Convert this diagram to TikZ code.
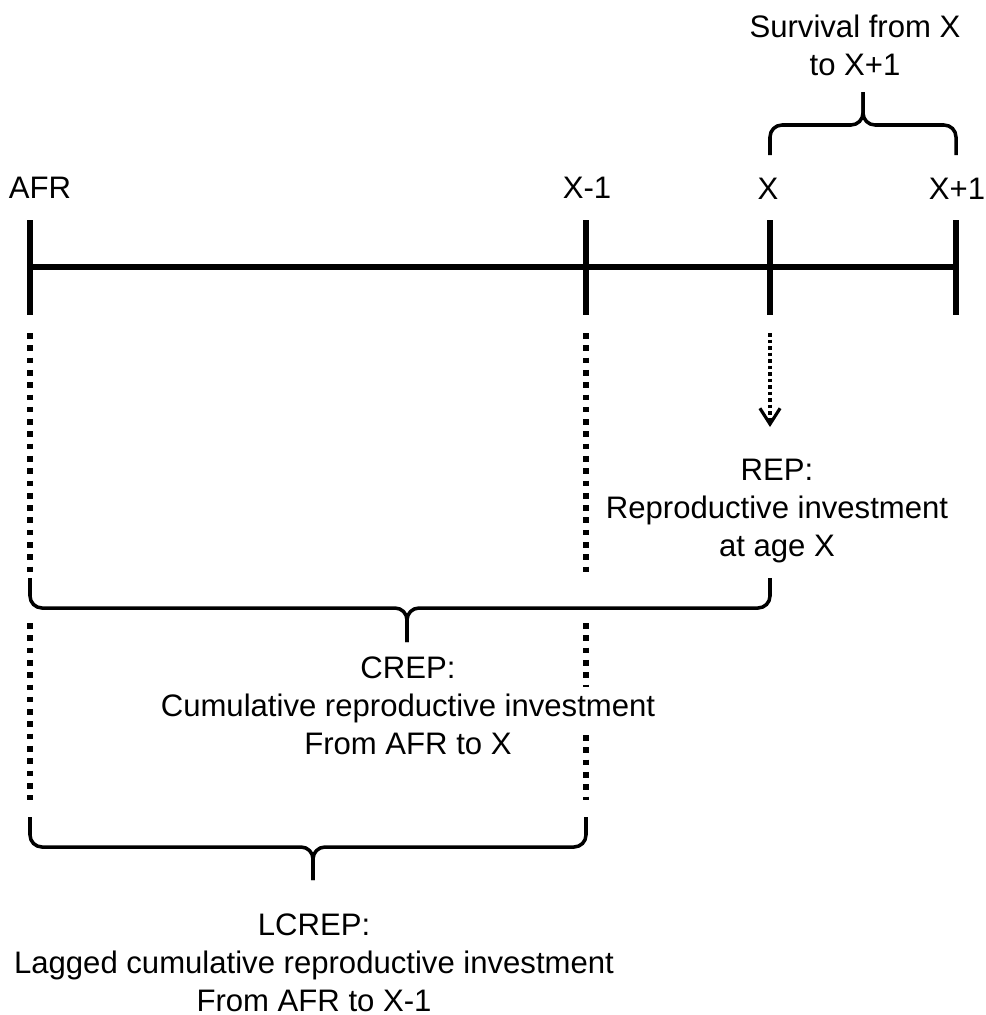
\documentclass[tikz,border=0pt]{standalone}
\usepackage{fontspec}
\setmainfont{Liberation Sans}
\usetikzlibrary{arrows.meta}
\begin{document}
\begin{tikzpicture}[x=0.02cm,y=-0.02cm,
  lab/.style={font=\fontsize{17.7}{21.5}\selectfont, inner sep=0pt, align=center, anchor=base},
  axis/.style={line width=3.4pt},
  tick/.style={line width=3.4pt},
  dots/.style={line width=3.2pt, dash pattern=on 3.2pt off 3.8pt},
  finedots/.style={line width=2.6pt, dash pattern=on 2pt off 1.7pt},
  brace/.style={line width=2pt, rounded corners=0.24cm}]
\useasboundingbox (0,0) rectangle (985,1015);
% axis coordinates
\coordinate (A) at (30,267);
\coordinate (B) at (586,267);
\coordinate (C) at (770,267);
\coordinate (D) at (956,267);
\coordinate (At) at (30,220);  \coordinate (Ab) at (30,315);
\coordinate (Bt) at (586,220); \coordinate (Bb) at (586,315);
\coordinate (Ct) at (770,220); \coordinate (Cb) at (770,315);
\coordinate (Dt) at (956,220); \coordinate (Db) at (956,315);
\draw[axis] (A) -- (D);
\draw[tick] (At) -- (Ab);
\draw[tick] (Bt) -- (Bb);
\draw[tick] (Ct) -- (Cb);
\draw[tick] (Dt) -- (Db);
% tick labels
\node[lab] (afr) at (40,198) {AFR};
\node[lab] (xm1) at (587,198) {X-1};
\node[lab] (x) at (768,199) {X};
\node[lab] (xp1) at (957,199) {X+1};
% top brace
\coordinate (s1) at (770,155); \coordinate (s2) at (956,155);
\coordinate (sh) at (863,125); \coordinate (st) at (863,92);
\draw[brace] (s1) -- (s1 |- sh) -- (sh) -- (st);
\draw[brace] (s2) -- (s2 |- sh) -- (sh) -- (st);
\node[lab] (surv) at (855,75) {Survival from X\\to X+1};
% dotted lines
\coordinate (d1) at (30,333);  \coordinate (d2) at (30,577);
\coordinate (d3) at (586,333); \coordinate (d4) at (586,577);
\coordinate (d5) at (30,623);  \coordinate (d6) at (30,800);
\coordinate (d7) at (586,623); \coordinate (d8) at (586,687);
\coordinate (d9) at (586,735); \coordinate (d10) at (586,800);
\draw[dots] (d1) -- (d2);
\draw[dots] (d3) -- (d4);
\draw[dots] (d5) -- (d6);
\draw[dots] (d7) -- (d8);
\draw[dots] (d9) -- (d10);
% dotted arrow to REP
\coordinate (r1) at (770,333);
\node[lab] (rep) at (777,556) {REP:\\Reproductive investment\\at age X};
\coordinate (r2) at (770,427);
\draw[finedots, -{Straight Barb[length=9pt,width=11.5pt,line width=1.8pt]}] (r1) -- (r2);
% CREP brace
\coordinate (c1) at (30,578); \coordinate (c2) at (770,578);
\coordinate (ch) at (407,608); \coordinate (ct) at (407,642);
\draw[brace] (c1) -- (c1 |- ch) -- (ch) -- (ct);
\draw[brace] (c2) -- (c2 |- ch) -- (ch) -- (ct);
\node[lab] (crep) at (408,754) {CREP:\\Cumulative reproductive investment\\From AFR to X};
% LCREP brace
\coordinate (l1) at (30,817); \coordinate (l2) at (586,817);
\coordinate (lh) at (313,847); \coordinate (lt) at (313,880);
\draw[brace] (l1) -- (l1 |- lh) -- (lh) -- (lt);
\draw[brace] (l2) -- (l2 |- lh) -- (lh) -- (lt);
\node[lab] (lcrep) at (314,1011) {LCREP:\\Lagged cumulative reproductive investment\\From AFR to X-1};
\end{tikzpicture}
\end{document}
